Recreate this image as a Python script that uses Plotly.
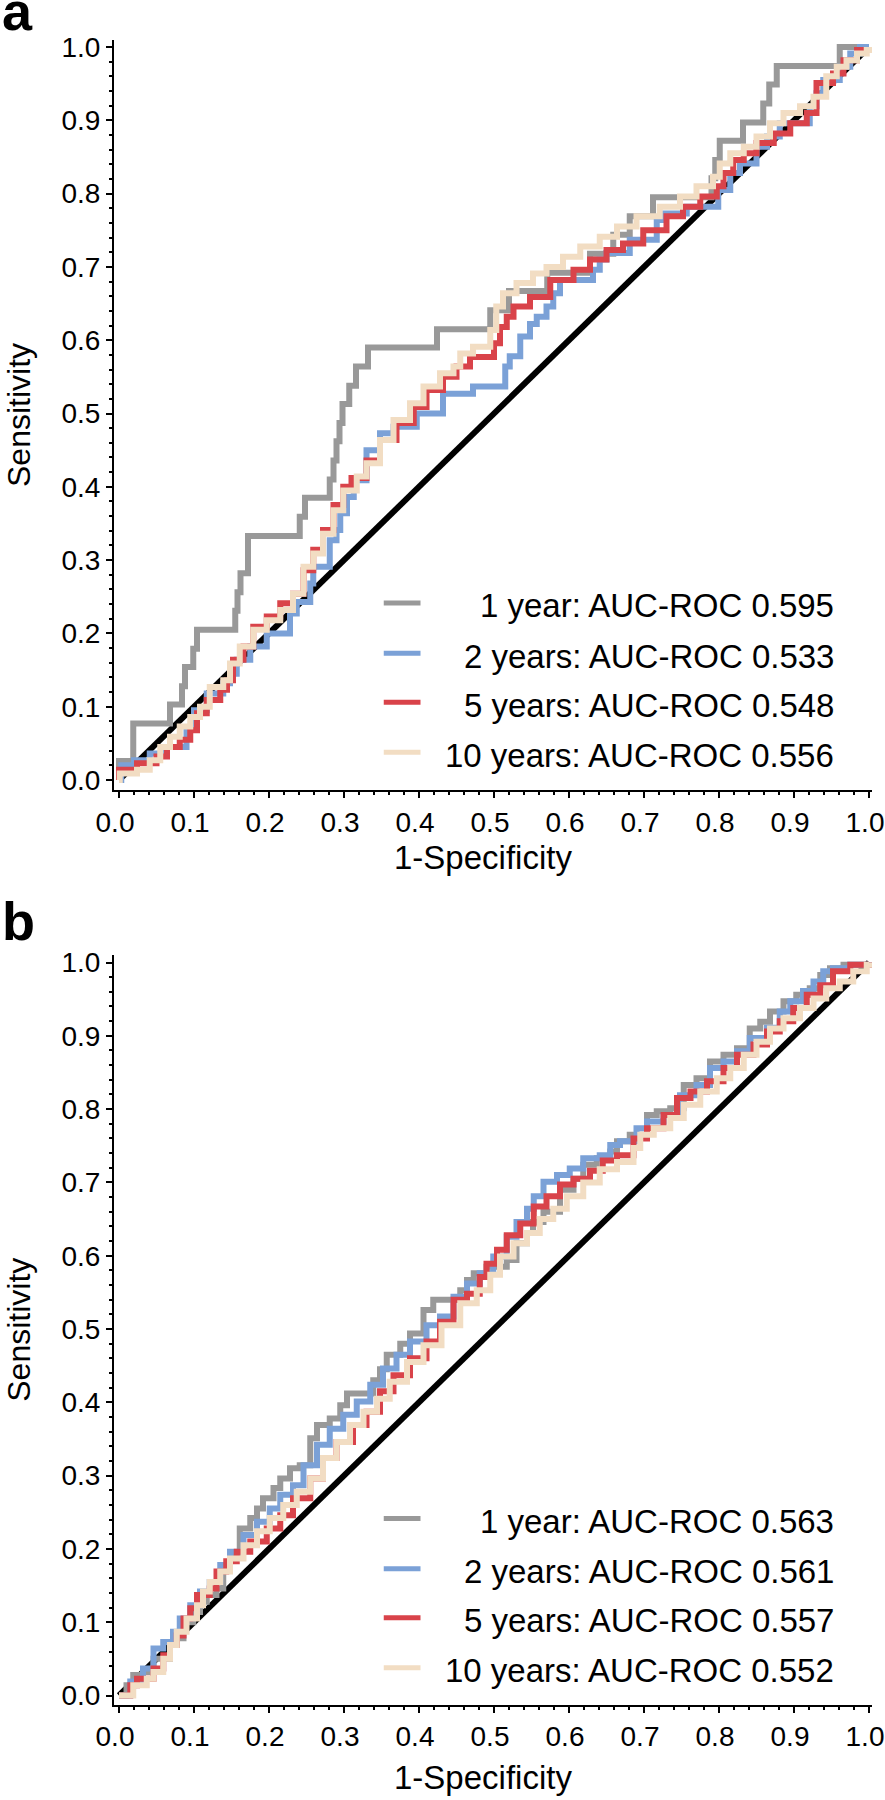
import plotly.graph_objects as go

# ---------------- data ----------------
TICKS = [0.0, 0.1, 0.2, 0.3, 0.4, 0.5, 0.6, 0.7, 0.8, 0.9, 1.0]
TICK_TEXT = ["0.0", "0.1", "0.2", "0.3", "0.4", "0.5", "0.6", "0.7", "0.8", "0.9", "1.0"]
DIAG = [0.0, 1.0]

SERIES_NAMES = ["1 year", "2 years", "5 years", "10 years"]
AUC_A = ["0.595", "0.533", "0.548", "0.556"]
AUC_B = ["0.563", "0.561", "0.557", "0.552"]

# Panel a
A_1Y_FPR = [0, 0, 0.019, 0.068, 0.084, 0.088, 0.099, 0.104, 0.155, 0.158, 0.162, 0.172, 0.241, 0.248,
            0.281, 0.286, 0.290, 0.294, 0.298, 0.307, 0.316, 0.332, 0.424, 0.495, 0.520, 0.571, 0.628,
            0.659, 0.681, 0.712, 0.790, 0.795, 0.801, 0.832, 0.859, 0.867, 0.877, 0.961, 1.0]
A_1Y_TPR = [0, 0.026, 0.077, 0.103, 0.128, 0.154, 0.179, 0.205, 0.231, 0.256, 0.282, 0.333, 0.359, 0.385,
            0.410, 0.436, 0.462, 0.487, 0.513, 0.538, 0.564, 0.590, 0.615, 0.641, 0.667, 0.692, 0.718,
            0.744, 0.769, 0.795, 0.821, 0.846, 0.872, 0.897, 0.923, 0.949, 0.974, 1.0, 1.0]

A_2Y_FPR = [0.000, 0.003, 0.020, 0.041, 0.059, 0.090, 0.100, 0.117, 0.139, 0.148, 0.157, 0.175, 0.197,
            0.228, 0.237, 0.255, 0.259, 0.281, 0.290, 0.295, 0.304, 0.313, 0.330, 0.348, 0.366, 0.397,
            0.432, 0.472, 0.515, 0.521, 0.535, 0.548, 0.557, 0.570, 0.579, 0.588, 0.632, 0.641, 0.650,
            0.681, 0.717, 0.726, 0.757, 0.799, 0.815, 0.828, 0.850, 0.864, 0.881, 0.921, 0.930, 0.939,
            0.961, 0.975, 0.988, 1.000]
A_2Y_TPR = [0.000, 0.020, 0.027, 0.036, 0.045, 0.072, 0.095, 0.118, 0.132, 0.145, 0.164, 0.182, 0.200,
            0.227, 0.243, 0.268, 0.291, 0.327, 0.341, 0.364, 0.386, 0.409, 0.450, 0.473, 0.482, 0.500,
            0.527, 0.537, 0.564, 0.578, 0.605, 0.622, 0.632, 0.646, 0.664, 0.682, 0.696, 0.710, 0.719,
            0.737, 0.764, 0.773, 0.782, 0.805, 0.828, 0.841, 0.864, 0.878, 0.896, 0.919, 0.937, 0.955,
            0.973, 0.991, 1.000, 1.000]

A_5Y_FPR = [0.000, 0.000, 0.024, 0.050, 0.064, 0.081, 0.095, 0.104, 0.117, 0.135, 0.144, 0.152, 0.166,
            0.179, 0.197, 0.215, 0.232, 0.246, 0.259, 0.272, 0.286, 0.299, 0.310, 0.330, 0.348, 0.370,
            0.393, 0.410, 0.432, 0.450, 0.468, 0.500, 0.508, 0.517, 0.526, 0.548, 0.575, 0.606, 0.628,
            0.650, 0.672, 0.699, 0.730, 0.752, 0.775, 0.797, 0.806, 0.819, 0.833, 0.850, 0.873, 0.895,
            0.917, 0.930, 0.952, 0.966, 0.984, 1.000]
A_5Y_TPR = [0.000, 0.014, 0.023, 0.032, 0.045, 0.055, 0.068, 0.091, 0.109, 0.123, 0.136, 0.164, 0.182,
            0.209, 0.223, 0.241, 0.254, 0.286, 0.314, 0.341, 0.375, 0.400, 0.412, 0.436, 0.464, 0.487,
            0.509, 0.532, 0.550, 0.564, 0.577, 0.596, 0.618, 0.632, 0.646, 0.659, 0.682, 0.696, 0.710,
            0.723, 0.732, 0.750, 0.769, 0.782, 0.796, 0.810, 0.828, 0.846, 0.855, 0.869, 0.882, 0.896,
            0.910, 0.951, 0.964, 0.982, 0.996, 1.000]

A_10Y_FPR = [0.000, 0.001, 0.024, 0.041, 0.055, 0.068, 0.081, 0.095, 0.108, 0.121, 0.139, 0.148, 0.161,
             0.179, 0.197, 0.215, 0.232, 0.246, 0.259, 0.272, 0.286, 0.299, 0.317, 0.330, 0.348, 0.366,
             0.388, 0.406, 0.428, 0.446, 0.455, 0.472, 0.495, 0.503, 0.512, 0.530, 0.552, 0.570, 0.592,
             0.615, 0.641, 0.664, 0.690, 0.721, 0.748, 0.770, 0.792, 0.801, 0.815, 0.833, 0.850, 0.868,
             0.886, 0.908, 0.926, 0.943, 0.957, 0.970, 0.984, 0.997, 1.000]
A_10Y_TPR = [0.000, 0.009, 0.014, 0.027, 0.045, 0.059, 0.073, 0.086, 0.100, 0.127, 0.136, 0.159, 0.182,
             0.205, 0.218, 0.232, 0.254, 0.291, 0.309, 0.336, 0.368, 0.395, 0.414, 0.432, 0.464, 0.491,
             0.514, 0.537, 0.555, 0.564, 0.582, 0.591, 0.614, 0.646, 0.664, 0.678, 0.691, 0.700, 0.714,
             0.728, 0.741, 0.755, 0.769, 0.782, 0.796, 0.810, 0.823, 0.841, 0.855, 0.864, 0.878, 0.896,
             0.910, 0.919, 0.932, 0.960, 0.973, 0.982, 0.991, 0.996, 1.000]

# Panel b
B_1Y_FPR = [0.000, 0.010, 0.019, 0.032, 0.046, 0.068, 0.077, 0.086, 0.099, 0.108, 0.117, 0.130, 0.139,
            0.148, 0.161, 0.175, 0.184, 0.192, 0.206, 0.215, 0.228, 0.241, 0.255, 0.264, 0.281, 0.295,
            0.304, 0.339, 0.348, 0.357, 0.375, 0.388, 0.406, 0.419, 0.455, 0.464, 0.473, 0.490, 0.517,
            0.530, 0.544, 0.552, 0.566, 0.588, 0.606, 0.619, 0.637, 0.655, 0.664, 0.681, 0.704, 0.717,
            0.735, 0.753, 0.770, 0.788, 0.806, 0.824, 0.841, 0.855, 0.868, 0.886, 0.903, 0.921, 0.935,
            0.948, 0.966, 1.000]
B_1Y_TPR = [0.000, 0.014, 0.028, 0.032, 0.050, 0.069, 0.078, 0.100, 0.114, 0.128, 0.137, 0.146, 0.178,
            0.191, 0.228, 0.242, 0.255, 0.269, 0.283, 0.296, 0.310, 0.314, 0.351, 0.369, 0.378, 0.396,
            0.412, 0.430, 0.445, 0.465, 0.480, 0.494, 0.526, 0.540, 0.553, 0.567, 0.576, 0.585, 0.594,
            0.617, 0.631, 0.646, 0.660, 0.690, 0.705, 0.724, 0.733, 0.742, 0.756, 0.765, 0.792, 0.797,
            0.801, 0.833, 0.842, 0.865, 0.874, 0.883, 0.910, 0.919, 0.933, 0.947, 0.956, 0.965, 0.983,
            0.992, 0.997, 1.000]

B_2Y_FPR = [0.000, 0.015, 0.032, 0.046, 0.059, 0.072, 0.081, 0.095, 0.108, 0.121, 0.135, 0.148, 0.166,
            0.184, 0.201, 0.215, 0.232, 0.246, 0.264, 0.281, 0.299, 0.317, 0.335, 0.352, 0.370, 0.388,
            0.410, 0.428, 0.446, 0.464, 0.481, 0.499, 0.517, 0.530, 0.544, 0.553, 0.566, 0.584, 0.601,
            0.619, 0.641, 0.655, 0.668, 0.690, 0.704, 0.726, 0.748, 0.770, 0.788, 0.806, 0.824, 0.841,
            0.864, 0.881, 0.895, 0.912, 0.926, 0.939, 0.952, 0.975, 1.000]
B_2Y_TPR = [0.000, 0.019, 0.037, 0.064, 0.073, 0.087, 0.105, 0.123, 0.142, 0.155, 0.178, 0.196, 0.219,
            0.237, 0.255, 0.274, 0.287, 0.314, 0.342, 0.364, 0.383, 0.401, 0.424, 0.446, 0.465, 0.483,
            0.505, 0.517, 0.544, 0.562, 0.576, 0.599, 0.626, 0.646, 0.664, 0.681, 0.701, 0.710, 0.719,
            0.733, 0.737, 0.751, 0.756, 0.774, 0.783, 0.792, 0.819, 0.833, 0.856, 0.865, 0.879, 0.897,
            0.911, 0.933, 0.947, 0.961, 0.974, 0.988, 0.992, 0.997, 1.000]

B_5Y_FPR = [0.000, 0.015, 0.024, 0.046, 0.059, 0.068, 0.077, 0.086, 0.095, 0.104, 0.121, 0.130, 0.143,
            0.157, 0.175, 0.197, 0.215, 0.232, 0.255, 0.272, 0.290, 0.312, 0.330, 0.348, 0.366, 0.388,
            0.410, 0.428, 0.446, 0.464, 0.481, 0.490, 0.504, 0.517, 0.535, 0.553, 0.570, 0.588, 0.606,
            0.628, 0.645, 0.664, 0.686, 0.704, 0.726, 0.744, 0.762, 0.784, 0.806, 0.824, 0.846, 0.864,
            0.881, 0.899, 0.917, 0.935, 0.952, 0.975, 1.000]
B_5Y_TPR = [0.000, 0.014, 0.023, 0.037, 0.055, 0.069, 0.082, 0.105, 0.119, 0.137, 0.146, 0.169, 0.183,
            0.196, 0.210, 0.228, 0.246, 0.269, 0.296, 0.324, 0.346, 0.369, 0.387, 0.415, 0.437, 0.460,
            0.483, 0.510, 0.540, 0.548, 0.571, 0.589, 0.608, 0.628, 0.644, 0.667, 0.681, 0.697, 0.705,
            0.716, 0.730, 0.737, 0.760, 0.774, 0.792, 0.815, 0.824, 0.838, 0.856, 0.874, 0.888, 0.906,
            0.920, 0.938, 0.956, 0.969, 0.988, 0.997, 1.000]

B_10Y_FPR = [0.000, 0.019, 0.037, 0.046, 0.059, 0.068, 0.077, 0.090, 0.104, 0.112, 0.121, 0.135, 0.148,
             0.166, 0.184, 0.201, 0.219, 0.237, 0.255, 0.272, 0.290, 0.308, 0.326, 0.344, 0.361, 0.384,
             0.406, 0.430, 0.455, 0.477, 0.495, 0.508, 0.526, 0.544, 0.561, 0.579, 0.597, 0.619, 0.641,
             0.664, 0.686, 0.695, 0.713, 0.735, 0.753, 0.775, 0.797, 0.815, 0.833, 0.850, 0.868, 0.886,
             0.908, 0.926, 0.943, 0.961, 0.979, 0.997, 1.000]
B_10Y_TPR = [0.000, 0.014, 0.023, 0.032, 0.050, 0.069, 0.087, 0.105, 0.123, 0.142, 0.155, 0.169, 0.187,
             0.205, 0.224, 0.242, 0.260, 0.278, 0.296, 0.324, 0.346, 0.369, 0.387, 0.405, 0.428, 0.455,
             0.478, 0.505, 0.535, 0.553, 0.574, 0.599, 0.617, 0.631, 0.650, 0.664, 0.681, 0.700, 0.718,
             0.728, 0.747, 0.765, 0.774, 0.788, 0.806, 0.824, 0.842, 0.856, 0.874, 0.892, 0.910, 0.924,
             0.938, 0.951, 0.965, 0.974, 0.988, 0.997, 1.000]

# ---------------- styling ----------------
COLORS = ["#999999", "#7ba1d7", "#d9434a", "#f2ddc3"]
FONT = "Liberation Sans, Arial, Helvetica, sans-serif"
W, H = 885, 1800

PANELS = [
    dict(lbl="a", xa="x", ya="y", auc=AUC_A,
         data=[(A_1Y_FPR, A_1Y_TPR), (A_2Y_FPR, A_2Y_TPR), (A_5Y_FPR, A_5Y_TPR), (A_10Y_FPR, A_10Y_TPR)],
         top=40, bottom=790, y0=780, lab_y=11, title_y=857),
    dict(lbl="b", xa="x2", ya="y2", auc=AUC_B,
         data=[(B_1Y_FPR, B_1Y_TPR), (B_2Y_FPR, B_2Y_TPR), (B_5Y_FPR, B_5Y_TPR), (B_10Y_FPR, B_10Y_TPR)],
         top=955, bottom=1704.5, y0=1695.5, lab_y=921, title_y=1777),
]
PX_PER_UNIT = 733.0
X_LEFT, X_RIGHT, X0 = 114, 872, 119
XPX = 750.0

fig = go.Figure()
annotations = []
shapes = []

LEG_Y = [0.2415, 0.173, 0.106, 0.038]
LEG_X0, LEG_X1, LEG_TXT_X = 0.353, 0.402, 0.956

for p in PANELS:
    fig.add_trace(go.Scatter(x=DIAG, y=DIAG, mode="lines", xaxis=p["xa"], yaxis=p["ya"],
                             line=dict(color="black", width=6), showlegend=False, hoverinfo="skip"))
    for (fx, ty), c in zip(p["data"], COLORS):
        fig.add_trace(go.Scatter(x=fx, y=ty, mode="lines", xaxis=p["xa"], yaxis=p["ya"],
                                 line=dict(color=c, width=6, shape="hv"), showlegend=False))
    # legend (right-aligned text like the reference)
    for name, auc, c, ly in zip(SERIES_NAMES, p["auc"], COLORS, LEG_Y):
        shapes.append(dict(type="line", xref=p["xa"], yref=p["ya"], x0=LEG_X0, x1=LEG_X1, y0=ly, y1=ly,
                           line=dict(color=c, width=5)))
        annotations.append(dict(xref=p["xa"], yref=p["ya"], x=LEG_TXT_X, y=ly - 0.004, xanchor="right",
                                yanchor="middle", showarrow=False, text=f"{name}: AUC-ROC {auc}",
                                font=dict(family=FONT, size=33, color="black")))

x_range = [(X_LEFT - X0) / XPX, (X_RIGHT - X0) / XPX]
xdom = [X_LEFT / W, X_RIGHT / W]

axis_common = dict(showline=True, linecolor="black", linewidth=2, ticks="outside", ticklen=6,
                   tickwidth=2, tickcolor="black", tickvals=TICKS, ticktext=TICK_TEXT,
                   ticklabeloverflow="allow", automargin=False,
                   tickfont=dict(family=FONT, size=28, color="black"), showgrid=False, zeroline=False,
                   minor=dict(ticks="outside", ticklen=3, tickwidth=1.5, tickcolor="black",
                              dtick=0.02, tick0=0, showgrid=False))

layout = dict(width=W, height=H, margin=dict(l=0, r=0, t=0, b=0, pad=0, autoexpand=False),
              plot_bgcolor="white", paper_bgcolor="white", showlegend=False)

for i, p in enumerate(PANELS):
    sfx = "" if i == 0 else "2"
    yr = [(p["y0"] - p["bottom"]) / PX_PER_UNIT, (p["y0"] - p["top"]) / PX_PER_UNIT]
    ydom = [1 - p["bottom"] / H, 1 - p["top"] / H]
    layout["xaxis" + sfx] = dict(axis_common, domain=xdom, range=x_range, anchor="y" + sfx,
                                 ticklabelshift=-4)
    layout["yaxis" + sfx] = dict(axis_common, domain=ydom, range=yr, anchor="x" + sfx)
    mid = (p["top"] + p["bottom"]) / 2
    annotations.append(dict(xref="paper", yref="paper", x=19 / W, y=1 - mid / H, textangle=-90,
                            showarrow=False, text="Sensitivity", xanchor="center", yanchor="middle",
                            font=dict(family=FONT, size=32, color="black")))
    annotations.append(dict(xref="paper", yref="paper", x=483 / W,
                            y=1 - p["title_y"] / H, showarrow=False, text="1-Specificity",
                            xanchor="center", yanchor="middle",
                            font=dict(family=FONT, size=33, color="black")))
    annotations.append(dict(xref="paper", yref="paper", x=0.0, y=1 - p["lab_y"] / H, showarrow=False,
                            text=f"<b>{p['lbl']}</b>", xanchor="left", yanchor="middle",
                            font=dict(family=FONT, size=54, color="black")))

layout["annotations"] = annotations
layout["shapes"] = shapes
fig.update_layout(**layout)
fig.write_html("out.html", config={"displayModeBar": False},
               post_script="document.body.style.margin='0';")
